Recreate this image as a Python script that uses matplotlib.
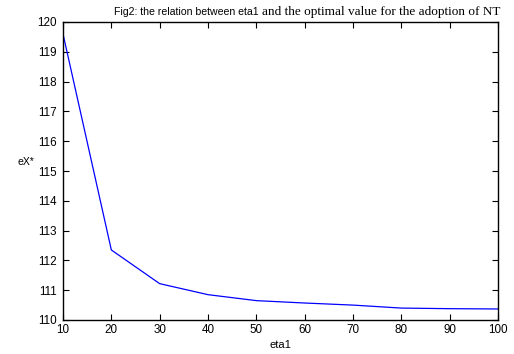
import numpy as np
import matplotlib
matplotlib.use("Agg")
import matplotlib.pyplot as plt

# data
eta1 = [10, 20, 30, 40, 50, 60, 70, 80, 90, 100]
eX = [119.6, 112.35, 111.22, 110.85, 110.65, 110.57, 110.5, 110.4, 110.38, 110.37]
xticks = list(range(10, 101, 10))
yticks = list(range(110, 121))

plt.rcParams['font.family'] = ['Liberation Sans', 'DejaVu Sans']

fig = plt.figure(figsize=(5.14, 3.54), dpi=100)
ax = fig.add_axes([63/514, 1-320/354, (498-63)/514, (320-22)/354])
ax.plot(eta1, eX, color='#0000ff', lw=0.9)
ax.set_xlim(10, 100)
ax.set_ylim(110, 120)
ax.set_xticks(xticks)
ax.set_yticks(yticks)
ax.tick_params(direction='in', top=True, right=True, length=4, width=0.8, labelsize=8.4, pad=3)
ax.tick_params(axis='y', pad=4.5)
for s in ax.spines.values():
    s.set_linewidth(1.0)
ax.set_xlabel("eta1", fontsize=8, labelpad=3)
fig.text(26/514, 1-162/354, "eX*", fontsize=7.5, ha='center', va='center')

# mixed-font title, right aligned at the plot edge
t2 = fig.text(500/514, 1-15/354, "and the optimal value for the adoption of NT",
              fontsize=9.5, family='Liberation Serif', ha='right', va='baseline')
fig.canvas.draw()
bb = t2.get_window_extent()
fig.text((bb.x0 - 3)/514, 1-15/354, "Fig2: the relation between eta1",
         fontsize=7.6, ha='right', va='baseline')

fig.savefig("out.png", dpi=100)
